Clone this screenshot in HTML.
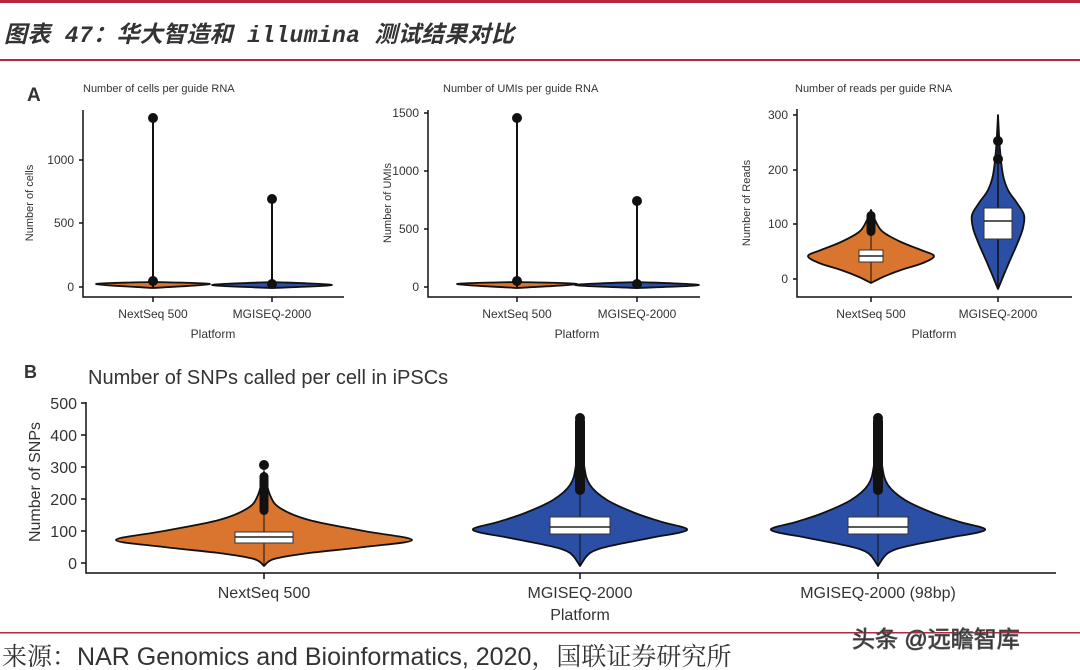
<!DOCTYPE html>
<html><head><meta charset="utf-8"><style>
body{margin:0;background:#fff}
svg{display:block}
text{font-family:"Liberation Sans","Noto Sans CJK SC",sans-serif;fill:#333}
</style></head><body>
<svg id="s" width="1080" height="670" viewBox="0 0 1080 670" xmlns="http://www.w3.org/2000/svg">
<rect width="1080" height="670" fill="#fff"/>
<rect x="0" y="0" width="1080" height="3" fill="#b5283a"/>
<rect x="0" y="59" width="1080" height="2" fill="#b5283a"/>
<text x="4" y="42" font-size="23" font-style="italic" font-weight="bold" fill="#111" textLength="510" style="font-family:'Liberation Mono','Noto Sans CJK SC',sans-serif">图表 47：华大智造和 illumina 测试结果对比</text>

<text x="27" y="101" font-size="19" font-weight="bold" fill="#111">A</text>
<text x="83" y="92" font-size="11">Number of cells per guide RNA</text>
<g id="g"></g>
<g stroke="#111" stroke-width="1.5" fill="none">
<path d="M83 110V297H344"/><path d="M79 287H83M79 223H83M79 160H83M153 297V302M272 297V302"/>
<path d="M428 110V297H700"/><path d="M424 287H428M424 229H428M424 171H428M424 113H428M517 297V302M637 297V302"/>
<path d="M797 109V297H1072"/><path d="M793 279H797M793 224H797M793 170H797M793 115H797M871 297V302M998 297V302"/>
<path d="M86 402V573H1056"/><path d="M81 563H86M81 531H86M81 499H86M81 467H86M81 435H86M81 403H86M264 573V579M580 573V579M878 573V579"/>
</g>
<g font-size="12" text-anchor="end">
<text x="74" y="291">0</text><text x="74" y="227">500</text><text x="74" y="164">1000</text>
<text x="419" y="291">0</text><text x="419" y="233">500</text><text x="419" y="175">1000</text><text x="419" y="117">1500</text>
<text x="788" y="283">0</text><text x="788" y="228">100</text><text x="788" y="174">200</text><text x="788" y="119">300</text>
</g>
<g font-size="12" text-anchor="middle">
<text x="153" y="318">NextSeq 500</text><text x="272" y="318">MGISEQ-2000</text><text x="213" y="338">Platform</text>
<text x="517" y="318">NextSeq 500</text><text x="637" y="318">MGISEQ-2000</text><text x="577" y="338">Platform</text>
<text x="871" y="318">NextSeq 500</text><text x="998" y="318">MGISEQ-2000</text><text x="934" y="338">Platform</text>
</g>
<text x="443" y="92" font-size="11">Number of UMIs per guide RNA</text>
<text x="795" y="92" font-size="11">Number of reads per guide RNA</text>
<g font-size="11" text-anchor="middle">
<text transform="translate(33,203) rotate(-90)">Number of cells</text>
<text transform="translate(391,203) rotate(-90)">Number of UMIs</text>
<text transform="translate(750,203) rotate(-90)">Number of Reads</text>
</g>

<text x="24" y="378" font-size="18" font-weight="bold" fill="#111">B</text>
<text x="88" y="384" font-size="20">Number of SNPs called per cell in iPSCs</text>
<g font-size="16" text-anchor="end">
<text x="77" y="569">0</text><text x="77" y="537">100</text><text x="77" y="505">200</text><text x="77" y="473">300</text><text x="77" y="441">400</text><text x="77" y="409">500</text>
</g>
<g font-size="16" text-anchor="middle">
<text x="264" y="598">NextSeq 500</text><text x="580" y="598">MGISEQ-2000</text><text x="878" y="598">MGISEQ-2000 (98bp)</text>
<text x="580" y="620">Platform</text>
<text transform="translate(40,482) rotate(-90)">Number of SNPs</text>
</g>

<rect x="0" y="632" width="1080" height="1.5" fill="#b5283a"/>
<text x="2" y="665" font-size="25" fill="#111" style="font-family:'Liberation Sans','Noto Serif CJK SC',serif">来源：<tspan style="font-family:'Liberation Sans',sans-serif">NAR Genomics and Bioinformatics, 2020</tspan>，国联证券研究所</text>
<text x="852" y="647" font-size="23" fill="#f2f2f2" stroke="#555" stroke-width="0.8">头条 @远瞻智库</text>
</svg>
<script>
const g=document.getElementById('g');const NS='http://www.w3.org/2000/svg';
function el(t,a){const e=document.createElementNS(NS,t);for(const k in a)e.setAttribute(k,a[k]);g.appendChild(e);return e;}
function cr(P){
  let d='';for(let i=0;i<P.length-1;i++){const p0=P[Math.max(0,i-1)],p1=P[i],p2=P[i+1],p3=P[Math.min(P.length-1,i+2)];
  const c1=[p1[0]+(p2[0]-p0[0])/6,p1[1]+(p2[1]-p0[1])/6],c2=[p2[0]-(p3[0]-p1[0])/6,p2[1]-(p3[1]-p1[1])/6];
  d+=`C${c1[0].toFixed(1)} ${c1[1].toFixed(1)} ${c2[0].toFixed(1)} ${c2[1].toFixed(1)} ${p2[0].toFixed(1)} ${p2[1].toFixed(1)}`;}return d;}
function violin(cx,prof,fill){
  const R=prof.map(p=>[cx+p[1],p[0]]);const L=prof.slice().reverse().map(p=>[cx-p[1],p[0]]);
  let d=`M${R[0][0]} ${R[0][1]}`+cr(R)+`L${L[0][0]} ${L[0][1]}`+cr(L)+'Z';
  el('path',{d,fill,stroke:'#111','stroke-width':1.8,'stroke-linejoin':'round'});
}
function box(cx,hw,y1,y2,m){el('rect',{x:cx-hw,y:y1,width:2*hw,height:y2-y1,fill:'#fff',stroke:'#333','stroke-width':1});el('line',{x1:cx-hw,x2:cx+hw,y1:m,y2:m,stroke:'#222','stroke-width':1.5});}
function vline(x,y1,y2,w){el('line',{x1:x,x2:x,y1,y2,stroke:'#111','stroke-width':w||1});}
function col(x,y1,y2,w){el('rect',{x:x-w/2,y:y1,width:w,height:y2-y1,rx:w/2,fill:'#111'});}
const O='#d9752f',B='#2b4fa4';
violin(153,[[282,0],[284,57],[288,0]],O);violin(272,[[282,0],[285,60],[288,0]],B);
vline(153,118,287,2);el('circle',{cx:153,cy:118,r:5,fill:'#111'});el('circle',{cx:153,cy:281,r:5,fill:'#111'});
vline(272,199,287,2);el('circle',{cx:272,cy:199,r:5,fill:'#111'});el('circle',{cx:272,cy:284,r:5,fill:'#111'});
violin(517,[[282,0],[284,60],[288,0]],O);violin(637,[[282,0],[285,62],[288,0]],B);
vline(517,118,287,2);el('circle',{cx:517,cy:118,r:5,fill:'#111'});el('circle',{cx:517,cy:281,r:5,fill:'#111'});
vline(637,201,287,2);el('circle',{cx:637,cy:201,r:5,fill:'#111'});el('circle',{cx:637,cy:284,r:5,fill:'#111'});
violin(871,[[210,0],[222,5],[232,12],[242,30],[250,50],[256,63],[263,52],[270,30],[277,12],[283,0]],O);
vline(871,210,282,1);col(871,211,236,9);box(871,12,250,262,256);
violin(998,[[115,0],[150,2],[175,5],[190,10],[203,19],[215,26],[228,25],[242,20],[258,13],[272,7],[289,0]],B);
vline(998,115,289,1.5);el('circle',{cx:998,cy:141,r:5,fill:'#111'});el('circle',{cx:998,cy:159,r:5,fill:'#111'});box(998,14,208,239,221);
violin(264,[[472,0],[495,6],[508,16],[520,45],[531,100],[540,148],[547,100],[553,45],[559,10],[566,0]],O);
vline(264,465,566,1);col(264,472,515,9);el('circle',{cx:264,cy:465,r:5,fill:'#111'});box(264,29,532,543,537);
[580,878].forEach(cx=>{
violin(cx,[[420,0],[465,4],[485,10],[500,27],[513,55],[522,82],[530,107],[538,70],[546,30],[553,10],[566,0]],B);
vline(cx,416,566,1);col(cx,416,495,10);el('circle',{cx,cy:418,r:5,fill:'#111'});el('circle',{cx,cy:430,r:5,fill:'#111'});
box(cx,30,517,534,527);});
</script>
</body></html>
